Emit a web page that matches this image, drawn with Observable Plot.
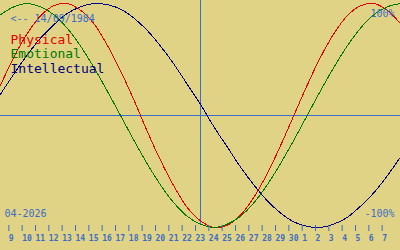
<!DOCTYPE html>
<html>
<head>
<meta charset="utf-8">
<script src="https://cdn.jsdelivr.net/npm/d3@7"></script>
<script src="https://cdn.jsdelivr.net/npm/@observablehq/plot@0.6"></script>
<style>
  html, body { margin: 0; padding: 0; background: #e1d385; }
</style>
</head>
<body>
<div id="chart"></div>
<script>
// Days shown (8 Apr 2026 .. 8 May 2026)
const dates = [
  "2026-04-08","2026-04-09","2026-04-10","2026-04-11","2026-04-12","2026-04-13","2026-04-14",
  "2026-04-15","2026-04-16","2026-04-17","2026-04-18","2026-04-19","2026-04-20","2026-04-21",
  "2026-04-22","2026-04-23","2026-04-24","2026-04-25","2026-04-26","2026-04-27","2026-04-28",
  "2026-04-29","2026-04-30","2026-05-01","2026-05-02","2026-05-03","2026-05-04","2026-05-05",
  "2026-05-06","2026-05-07","2026-05-08"
];
// Series values (-1 .. 1)
const physical = [0.27,0.52,0.73,0.89,0.98,1.00,0.94,0.82,0.63,0.40,0.14,-0.14,-0.40,-0.63,-0.82,-0.94,-1.00,-0.98,-0.89,-0.73,-0.52,-0.27,0.00,0.27,0.52,0.73,0.89,0.98,1.00,0.94,0.82];
const emotional = [0.90,0.97,1.00,0.97,0.90,0.78,0.62,0.43,0.22,0.00,-0.22,-0.43,-0.62,-0.78,-0.90,-0.97,-1.00,-0.97,-0.90,-0.78,-0.62,-0.43,-0.22,0.00,0.22,0.43,0.62,0.78,0.90,0.97,1.00];
const intellectual = [0.19,0.37,0.54,0.69,0.81,0.91,0.97,1.00,0.99,0.95,0.87,0.76,0.62,0.46,0.28,0.10,-0.10,-0.28,-0.46,-0.62,-0.76,-0.87,-0.95,-0.99,-1.00,-0.97,-0.91,-0.81,-0.69,-0.54,-0.37];
const today = "2026-04-23";
// Tick labels (9 Apr .. 7 May)
const tickDates = dates.slice(1, 30);
const tickLabels = ["9","10","11","12","13","14","15","16","17","18","19","20","21","22","23","24","25","26","27","28","29","30","1","2","3","4","5","6","7"];
const legendNames = ["Physical", "Emotional", "Intellectual"];
const colors = ["#e00000", "#007800", "#000080"];
const headerText = "<-- 14/09/1984";
const monthText = "04-2026";
const topText = "100%";
const bottomText = "-100%";

const parse = s => new Date(s + "T00:00:00Z");
const series = [physical, emotional, intellectual];
const rows = series.map(vals => vals.map((v, i) => ({date: parse(dates[i]), v})));
const tickD = tickDates.map(parse);
const labelOf = new Map(tickD.map((d, i) => [+d, tickLabels[i]]));

const blue = "#3a6ec6";
const mono = "DejaVu Sans Mono, monospace";

const chart = Plot.plot({
  width: 400,
  height: 250,
  marginTop: 0,
  marginRight: 0,
  marginBottom: 25,
  marginLeft: 0,
  style: {background: "#e1d385", fontFamily: mono, overflow: "visible"},
  x: {type: "utc", domain: [parse(dates[0]), parse(dates[dates.length - 1])], axis: null},
  y: {domain: [-1, 1], range: [227, 3], axis: null},
  marks: [
    Plot.ruleY([0], {stroke: blue, strokeWidth: 1, shapeRendering: "crispEdges"}),
    Plot.ruleX([parse(today)], {stroke: blue, strokeWidth: 1, shapeRendering: "crispEdges"}),
    ...rows.map((r, k) => Plot.line(r, {x: "date", y: "v", stroke: colors[k], strokeWidth: 1, curve: "catmull-rom", shapeRendering: "crispEdges"})),
    Plot.axisX({
      ticks: tickD, tickFormat: d => labelOf.get(+d), tickSize: 6, tickPadding: 4,
      stroke: blue, fill: blue, fontSize: 8, fontWeight: "bold", textAnchor: "start", dx: -5, label: null, fontFamily: mono
    }),
    Plot.text([headerText], {frameAnchor: "top-left", lineAnchor: "bottom", dx: 10, dy: 21, fill: blue, fontSize: 10, fontFamily: mono}),
    ...legendNames.map((n, k) => Plot.text([n], {frameAnchor: "top-left", lineAnchor: "bottom", dx: 10, dy: 43 + k * 14.5, fill: colors[k], fontSize: 13, fontFamily: mono})),
    Plot.text([topText], {frameAnchor: "top-right", lineAnchor: "bottom", textAnchor: "end", dx: -6, dy: 16, fill: blue, fontSize: 10, fontFamily: mono}),
    Plot.text([bottomText], {frameAnchor: "bottom-right", lineAnchor: "bottom", textAnchor: "end", dx: -6, dy: -9, fill: blue, fontSize: 10, fontFamily: mono}),
    Plot.text([monthText], {frameAnchor: "bottom-left", lineAnchor: "bottom", textAnchor: "start", dx: 4, dy: -9, fill: blue, fontSize: 10, fontFamily: mono})
  ]
});
document.getElementById("chart").appendChild(chart);
</script>
</body>
</html>
